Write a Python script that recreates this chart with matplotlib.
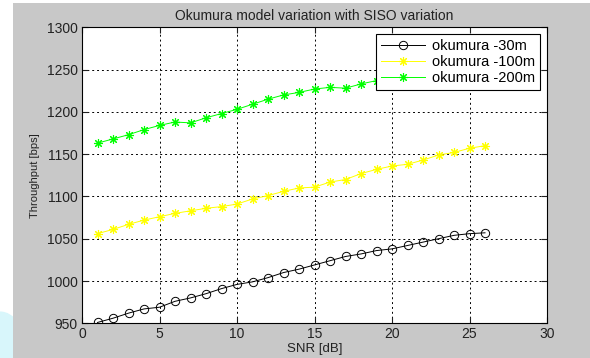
import matplotlib.pyplot as plt
from matplotlib.patches import Rectangle, Ellipse

plt.rcParams['font.family'] = ['Liberation Sans', 'DejaVu Sans']

snr = list(range(1, 27))
okumura_30 = [951, 956, 962, 967, 969, 976, 980, 985, 991, 996, 999, 1004, 1010,
              1014, 1019, 1024, 1029, 1032, 1036, 1038, 1042, 1046, 1050, 1054,
              1056, 1057]
okumura_100 = [1056, 1061, 1067, 1072, 1076, 1080, 1083, 1086, 1088, 1091, 1097,
               1101, 1106, 1110, 1111, 1117, 1120, 1127, 1132, 1136, 1138, 1143,
               1149, 1152, 1157, 1160]
okumura_200 = [1163, 1168, 1173, 1179, 1184, 1188, 1187, 1193, 1198, 1203, 1209,
               1215, 1220, 1223, 1227, 1229, 1228, 1233, 1237, 1240, 1243, 1246,
               1249, 1252, 1255, 1258]

fig = plt.figure(figsize=(5.9, 3.58), dpi=100)
fig.patch.set_facecolor('white')
# grey figure panel with a white margin on the left/top
fig.patches.append(Rectangle((13 / 590, 0), 1, 1 - 3 / 358, transform=fig.transFigure,
                             facecolor='#c8c8c8', edgecolor='none', zorder=-2))
fig.patches.append(Ellipse((0.0, 0.02), 0.09, 0.22, transform=fig.transFigure,
                           facecolor='#d8f6fb', edgecolor='none', zorder=-3))

ax = fig.add_axes([82 / 590, 1 - 323.3 / 358, 465 / 590, 296 / 358])
ax.set_facecolor('white')

star = (8, 2, 0)  # asterisk: + and x overlaid
ax.plot(snr, okumura_30, color='black', lw=0.7, marker='o', ms=6,
        mfc='none', mec='black', mew=0.7, label='okumura -30m')
ax.plot(snr, okumura_100, color='#ffff00', lw=0.7, marker=star, ms=6.5,
        mew=0.8, label='okumura -100m')
ax.plot(snr, okumura_200, color='#00ff00', lw=0.7, marker=star, ms=6.5,
        mew=0.8, label='okumura -200m')

ax.set_xlim(0, 30)
ax.set_ylim(950, 1300)
ax.set_xticks(range(0, 31, 5))
ax.set_yticks(range(950, 1301, 50))
ax.grid(True, color='black', linestyle=(0, (2, 3)), linewidth=0.7)
ax.tick_params(direction='in', top=True, right=True, labelsize=10, length=4,
               colors='#222222', pad=3)
for s in ax.spines.values():
    s.set_linewidth(0.8)

ax.set_title('Okumura model variation with SISO variation', fontsize=10, pad=5,
             color='#222222')
ax.set_xlabel('SNR [dB]', fontsize=9.5, labelpad=1, color='#222222')
ax.set_ylabel('Throughput [bps]', fontsize=8, labelpad=5, color='#222222')

leg = ax.legend(loc='upper right', bbox_to_anchor=(0.985, 0.978), fontsize=10.5,
                fancybox=False, framealpha=1, edgecolor='black',
                handlelength=3.0, borderpad=0.35, labelspacing=0.15,
                handletextpad=0.45, borderaxespad=0)
leg.get_frame().set_linewidth(0.8)

fig.savefig('out.png', dpi=100)
